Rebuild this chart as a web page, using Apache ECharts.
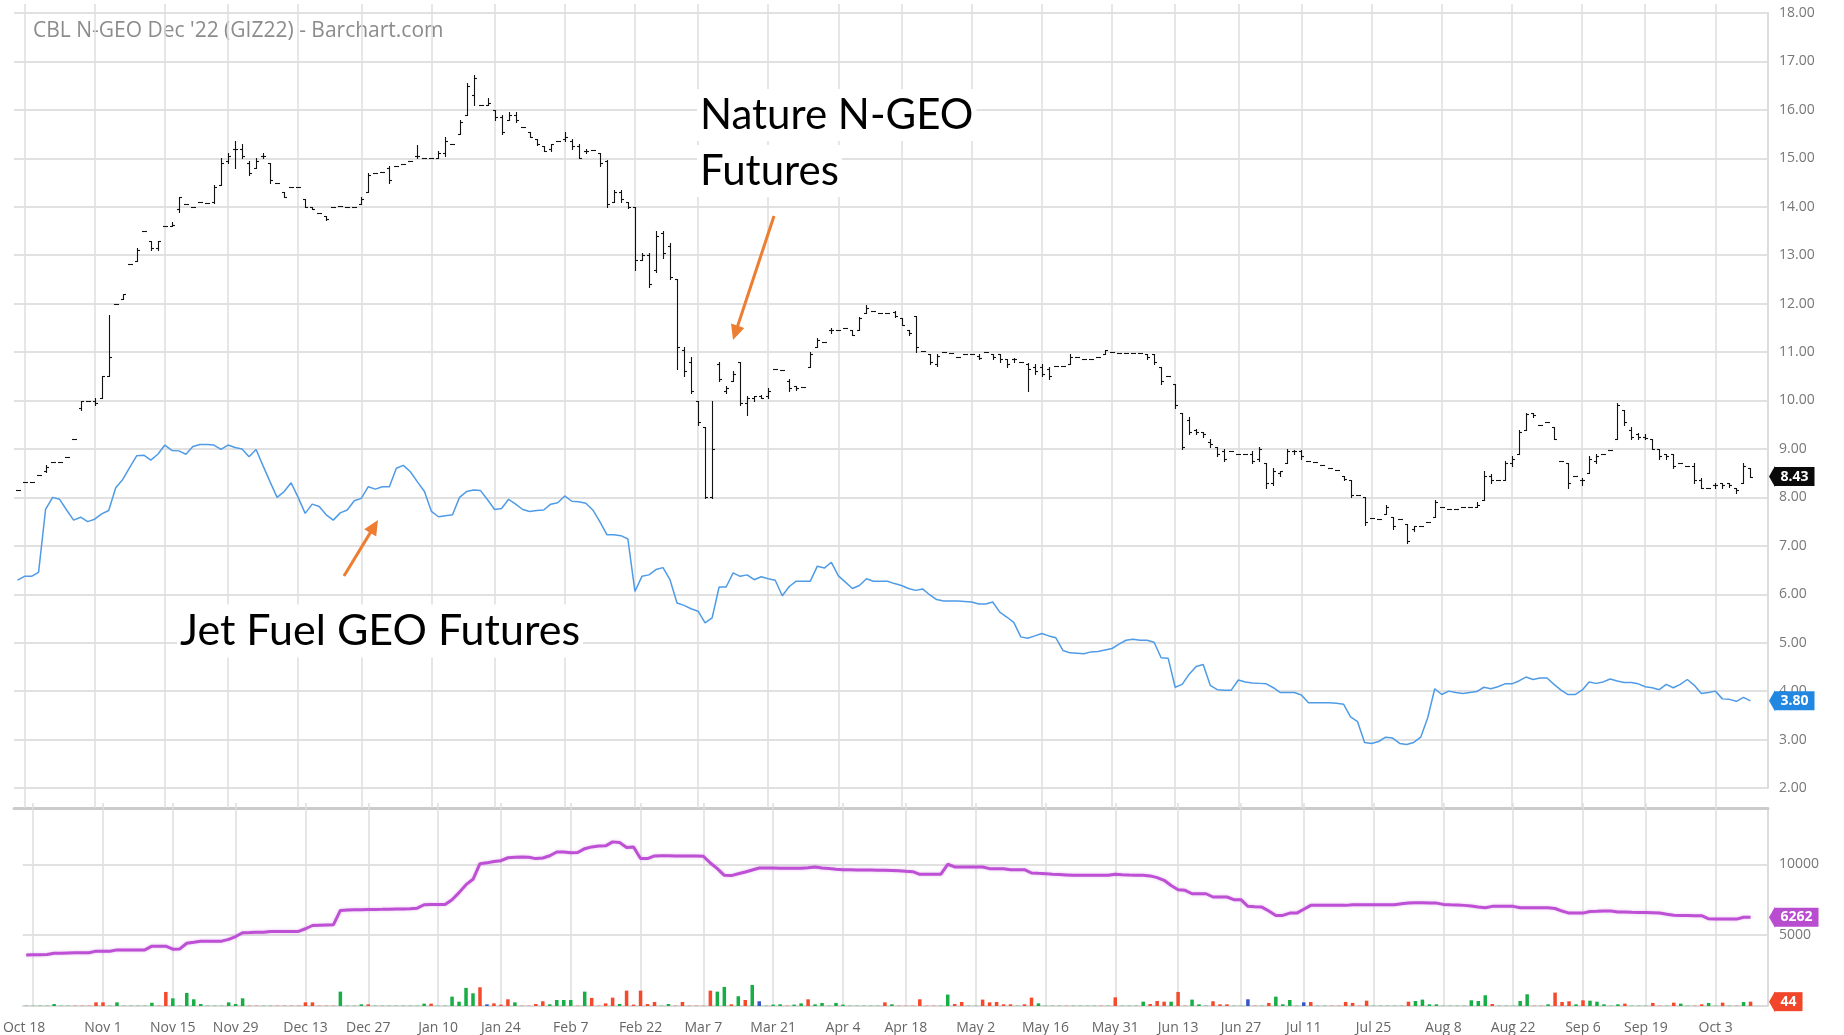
<!DOCTYPE html>
<html>
<head>
<meta charset="utf-8">
<title>CBL N-GEO Dec '22 (GIZ22)</title>
<script src="https://cdn.jsdelivr.net/npm/echarts@6/dist/echarts.min.js"></script>
<style>
  html, body { margin: 0; padding: 0; background: #fff; }
  #chart { width: 1844px; height: 1035px; }
</style>
</head>
<body>
<div id="chart"></div>
<script>
// Daily bars, Oct 15 2021 .. Oct 10 2022 (plus two empty days of right padding)
const FIRST_DAY = "2021-10-15";
const DAY_COUNT = 250;
const HOLIDAYS = ["2021-11-25", "2021-12-24", "2022-01-17", "2022-02-21", "2022-04-15",
  "2022-05-30", "2022-06-20", "2022-07-04", "2022-09-05"];

const tickDates = ["2021-10-18", "2021-11-01", "2021-11-15", "2021-11-29", "2021-12-13", "2021-12-27",
  "2022-01-10", "2022-01-24", "2022-02-07", "2022-02-22", "2022-03-07", "2022-03-21", "2022-04-04",
  "2022-04-18", "2022-05-02", "2022-05-16", "2022-05-31", "2022-06-13", "2022-06-27", "2022-07-11",
  "2022-07-25", "2022-08-08", "2022-08-22", "2022-09-06", "2022-09-19", "2022-10-03"];
const tickNames = ["Oct 18", "Nov 1", "Nov 15", "Nov 29", "Dec 13", "Dec 27", "Jan 10", "Jan 24",
  "Feb 7", "Feb 22", "Mar 7", "Mar 21", "Apr 4", "Apr 18", "May 2", "May 16", "May 31", "Jun 13",
  "Jun 27", "Jul 11", "Jul 25", "Aug 8", "Aug 22", "Sep 6", "Sep 19", "Oct 3"];

// N-GEO price bars: a number = flat day, otherwise [open, high, low, close]
const ngeoBars = [
  8.15, 8.31, 8.31, 8.46, [8.55, 8.67, 8.53, 8.62], 8.72, 8.74, 8.84, 9.2, [9.85, 10.0, 9.8, 10.0],
  9.98, [10.0, 10.05, 9.9, 9.95], [10.05, 10.5, 10.05, 10.5], [10.5, 11.77, 10.5, 10.9], 12.0,
  [12.1, 12.2, 12.1, 12.2], 12.82, [12.87, 13.14, 12.87, 13.1], 13.5, [13.3, 13.3, 13.1, 13.15],
  [13.15, 13.3, 13.1, 13.3], 13.6, [13.6, 13.68, 13.6, 13.62], [13.95, 14.2, 13.9, 14.2], 14.05,
  14.0, 14.1, 14.08, [14.1, 14.45, 14.08, 14.4], [14.45, 15.0, 14.45, 14.9],
  [14.95, 15.1, 14.9, 15.05], [15.2, 15.35, 14.8, 15.2], [15.2, 15.3, 15.0, 15.05], [14.9, 14.95, 14.65, 14.7], [14.8, 15.0, 14.8, 14.95],
  [15.05, 15.1, 15.0, 15.05], [14.9, 14.9, 14.5, 14.55], 14.5, [14.3, 14.3, 14.2, 14.2], 14.4,
  14.4, [14.15, 14.15, 14.0, 14.0], [14.0, 14.0, 13.95, 13.95], 13.87, [13.8, 13.8, 13.72, 13.75],
  14.0, 14.02, 14.0, 14.0, [14.05, 14.2, 14.05, 14.15],
  [14.3, 14.7, 14.3, 14.65], 14.7, 14.72, [14.8, 14.85, 14.5, 14.55], 14.85,
  14.88, 14.95, [15.05, 15.28, 15.0, 15.05], 15.0, 15.0,
  [15.0, 15.15, 15.0, 15.1], [15.1, 15.45, 15.05, 15.35], 15.3, [15.5, 15.8, 15.5, 15.75], [15.9, 16.55, 15.9, 16.5],
  [16.3, 16.73, 16.1, 16.65], 16.1, [16.1, 16.25, 16.1, 16.15], [16.0, 16.0, 15.8, 15.85], [15.85, 15.9, 15.5, 15.55],
  [15.8, 15.95, 15.8, 15.9], [15.9, 15.95, 15.75, 15.8], 15.65, [15.55, 15.55, 15.45, 15.45], [15.4, 15.4, 15.28, 15.3],
  [15.25, 15.25, 15.15, 15.15], [15.2, 15.3, 15.15, 15.3], 15.35, [15.4, 15.55, 15.35, 15.45], [15.35, 15.4, 15.2, 15.25],
  [15.25, 15.3, 15.0, 15.0], [15.15, 15.2, 15.1, 15.15], 15.17, [15.1, 15.1, 14.85, 14.9], [14.95, 14.97, 14.0, 14.05],
  [14.1, 14.35, 14.1, 14.3], [14.3, 14.35, 14.1, 14.15], [14.1, 14.1, 13.98, 14.0], [14.0, 14.0, 12.7, 12.9], [12.9, 13.05, 12.9, 13.0],
  [13.0, 13.05, 12.35, 12.4], [12.7, 13.5, 12.65, 13.4], [13.45, 13.5, 12.95, 13.05], [13.2, 13.25, 12.5, 12.55], [12.5, 12.5, 10.65, 11.1],
  [11.05, 11.1, 10.5, 10.6], [10.8, 10.9, 10.15, 10.2], [10.0, 10.0, 9.5, 9.55], [9.45, 9.45, 7.98, 8.0], [8.0, 10.0, 7.98, 9.0],
  [10.75, 10.8, 10.4, 10.45], [10.2, 10.3, 10.15, 10.25], [10.4, 10.6, 10.4, 10.55], [10.8, 10.8, 9.9, 9.95], [9.95, 10.1, 9.7, 10.05],
  [10.05, 10.1, 10.0, 10.1], [10.1, 10.12, 10.05, 10.05], [10.1, 10.25, 10.05, 10.2], 10.65, 10.62,
  [10.4, 10.45, 10.2, 10.25], [10.3, 10.3, 10.22, 10.25], 10.28, [10.7, 11.0, 10.7, 10.95], [11.1, 11.3, 11.1, 11.25],
  11.2, [11.45, 11.5, 11.4, 11.45], 11.45, 11.5, [11.45, 11.45, 11.35, 11.35],
  [11.45, 11.72, 11.45, 11.7], [11.8, 11.97, 11.8, 11.9], 11.85, 11.8, 11.8,
  [11.82, 11.85, 11.72, 11.75], [11.7, 11.7, 11.55, 11.55], [11.45, 11.45, 11.35, 11.4], [11.75, 11.75, 11.0, 11.1], 11.02,
  [10.95, 10.95, 10.75, 10.8], [10.75, 10.95, 10.72, 10.92], 11.0, 10.98, 10.9,
  10.95, 10.95, [10.92, 10.95, 10.85, 10.88], 11.0, [10.95, 10.97, 10.85, 10.9],
  [10.95, 10.97, 10.8, 10.85], [10.85, 10.85, 10.7, 10.75], [10.85, 10.88, 10.8, 10.85], 10.8, [10.75, 10.78, 10.2, 10.65],
  [10.7, 10.75, 10.55, 10.6], [10.7, 10.75, 10.5, 10.55], [10.65, 10.7, 10.45, 10.5], 10.72, 10.72,
  [10.75, 10.95, 10.75, 10.9], 10.9, 10.85, 10.85, 10.9,
  [10.95, 11.05, 10.95, 11.05], 11.0, 10.98, 10.98, 10.98,
  10.98, [10.97, 10.97, 10.85, 10.9], [10.97, 10.97, 10.75, 10.8], [10.7, 10.7, 10.35, 10.4], 10.5,
  [10.35, 10.35, 9.85, 9.9], [9.75, 9.75, 9.0, 9.05], [9.6, 9.65, 9.3, 9.35], [9.4, 9.42, 9.3, 9.35], [9.35, 9.35, 9.25, 9.3],
  [9.15, 9.2, 9.05, 9.1], [9.05, 9.05, 8.85, 8.9], [8.95, 9.0, 8.75, 8.8], 8.95, 8.9,
  8.9, [8.9, 8.95, 8.7, 8.75], [8.8, 9.05, 8.75, 9.0], [8.7, 8.7, 8.2, 8.3], [8.3, 8.6, 8.25, 8.55],
  [8.5, 8.55, 8.45, 8.55], [8.7, 9.0, 8.7, 8.95], [8.95, 8.98, 8.9, 8.95], [8.95, 8.98, 8.8, 8.85], 8.75,
  8.72, 8.67, 8.6, 8.57, [8.45, 8.45, 8.35, 8.38],
  [8.35, 8.35, 8.0, 8.05], 8.05, [8.0, 8.0, 7.42, 7.5], 7.58, 7.55,
  [7.65, 7.85, 7.65, 7.8], [7.6, 7.6, 7.35, 7.4], 7.55, [7.45, 7.45, 7.05, 7.1], [7.35, 7.4, 7.3, 7.4],
  7.4, 7.5, [7.6, 7.95, 7.6, 7.9], 7.8, 7.75,
  7.75, 7.8, 7.8, [7.8, 7.9, 7.8, 7.85], [7.95, 8.55, 7.95, 8.45],
  [8.45, 8.48, 8.3, 8.35], 8.35, [8.35, 8.75, 8.35, 8.7], [8.7, 8.85, 8.65, 8.8], [8.9, 9.4, 8.9, 9.35],
  [9.4, 9.75, 9.4, 9.72], [9.75, 9.75, 9.65, 9.7], 9.5, 9.55, [9.45, 9.45, 9.2, 9.2],
  8.75, [8.7, 8.7, 8.2, 8.3], 8.45, [8.35, 8.4, 8.25, 8.35], [8.5, 8.85, 8.5, 8.8],
  [8.75, 8.9, 8.7, 8.85], 8.9, 8.97, [9.2, 9.95, 9.2, 9.9], [9.8, 9.8, 9.5, 9.55],
  [9.4, 9.45, 9.2, 9.25], [9.3, 9.32, 9.2, 9.25], [9.25, 9.3, 9.2, 9.22], [9.2, 9.2, 9.0, 9.0], [9.0, 9.0, 8.8, 8.85],
  [8.9, 8.9, 8.8, 8.85], [8.9, 8.9, 8.6, 8.65], 8.7, 8.65, [8.65, 8.7, 8.3, 8.35],
  [8.35, 8.4, 8.2, 8.2], 8.2, [8.25, 8.3, 8.2, 8.25], [8.3, 8.3, 8.2, 8.25], [8.3, 8.3, 8.22, 8.25],
  [8.2, 8.2, 8.1, 8.15], [8.3, 8.7, 8.3, 8.65], [8.6, 8.6, 8.43, 8.43]
];

// Jet Fuel GEO close (blue line), same price axis
const jetFuel = [
  6.29, 6.37, 6.37, 6.45, 7.75, 8.0, 7.96, 7.74, 7.53, 7.59,
  7.5, 7.55, 7.66, 7.73, 8.2, 8.37, 8.62, 8.86, 8.87, 8.77,
  8.89, 9.08, 8.97, 8.96, 8.89, 9.05, 9.09, 9.09, 9.08, 8.99,
  9.08, 9.03, 9.0, 8.84, 8.99, 8.65, 8.32, 8.0, 8.12, 8.3,
  8.0, 7.67, 7.86, 7.81, 7.64, 7.53, 7.68, 7.74, 7.93, 7.98,
  8.22, 8.17, 8.22, 8.22, 8.6, 8.66, 8.53, 8.32, 8.12, 7.71,
  7.6, 7.62, 7.64, 8.0, 8.12, 8.15, 8.14, 7.95, 7.75, 7.77,
  7.96, 7.86, 7.75, 7.71, 7.73, 7.74, 7.86, 7.89, 8.03, 7.92,
  7.91, 7.88, 7.74, 7.5, 7.23, 7.23, 7.21, 7.14, 6.06, 6.37,
  6.4, 6.51, 6.55, 6.3, 5.82, 5.77, 5.7, 5.65, 5.41, 5.51,
  6.15, 6.15, 6.44, 6.37, 6.4, 6.3, 6.36, 6.32, 6.29, 5.97,
  6.16, 6.27, 6.27, 6.27, 6.58, 6.54, 6.66, 6.38, 6.25, 6.12,
  6.18, 6.32, 6.27, 6.27, 6.27, 6.22, 6.18, 6.12, 6.08, 6.11,
  5.99, 5.89, 5.86, 5.86, 5.86, 5.85, 5.84, 5.8, 5.8, 5.84,
  5.63, 5.53, 5.42, 5.12, 5.09, 5.14, 5.19, 5.14, 5.1, 4.84,
  4.79, 4.78, 4.77, 4.81, 4.82, 4.85, 4.88, 4.97, 5.05, 5.07,
  5.05, 5.05, 5.01, 4.69, 4.68, 4.08, 4.14, 4.35, 4.51, 4.55,
  4.12, 4.03, 4.02, 4.02, 4.23, 4.19, 4.17, 4.16, 4.15, 4.07,
  3.97, 3.97, 3.97, 3.92, 3.76, 3.76, 3.76, 3.76, 3.75, 3.73,
  3.47, 3.37, 2.94, 2.92, 2.96, 3.05, 3.03, 2.92, 2.9, 2.94,
  3.05, 3.45, 4.05, 3.93, 4.0, 3.97, 3.95, 3.97, 3.99, 4.08,
  4.05, 4.09, 4.15, 4.15, 4.21, 4.29, 4.24, 4.27, 4.27, 4.14,
  4.02, 3.93, 3.93, 4.02, 4.19, 4.16, 4.19, 4.25, 4.21, 4.18,
  4.18, 4.15, 4.09, 4.07, 4.03, 4.14, 4.07, 4.14, 4.24, 4.12,
  3.95, 3.97, 4.0, 3.84, 3.83, 3.79, 3.87, 3.80
];

// Open interest (purple line)
const openInterest = [
  3600, 3610, 3620, 3630, 3720, 3730, 3740, 3750, 3750, 3760,
  3870, 3870, 3870, 3960, 3960, 3960, 3960, 3960, 4220, 4220,
  4220, 4010, 4030, 4430, 4500, 4575, 4575, 4575, 4575, 4700,
  4900, 5165, 5180, 5200, 5210, 5260, 5260, 5260, 5260, 5260,
  5450, 5680, 5700, 5720, 5730, 6745, 6770, 6790, 6800, 6815,
  6815, 6820, 6830, 6840, 6850, 6860, 6900, 7145, 7160, 7170,
  7170, 7500, 8000, 8560, 8940, 10045, 10100, 10200, 10250, 10460,
  10500, 10515, 10500, 10400, 10440, 10600, 10870, 10870, 10820, 10830,
  11100, 11225, 11290, 11300, 11580, 11530, 11180, 11225, 10400, 10400,
  10590, 10600, 10600, 10590, 10590, 10580, 10580, 10565, 10090, 9690,
  9220, 9200, 9330, 9455, 9600, 9740, 9740, 9730, 9720, 9715,
  9715, 9720, 9760, 9810, 9740, 9700, 9650, 9620, 9610, 9600,
  9590, 9590, 9580, 9575, 9560, 9540, 9500, 9480, 9290, 9290,
  9290, 9290, 10000, 9810, 9810, 9810, 9810, 9810, 9690, 9690,
  9690, 9620, 9620, 9620, 9385, 9360, 9340, 9290, 9270, 9250,
  9230, 9220, 9220, 9220, 9220, 9220, 9290, 9260, 9240, 9230,
  9220, 9180, 9055, 8870, 8500, 8205, 8160, 7920, 7920, 7920,
  7690, 7690, 7690, 7500, 7500, 7030, 7000, 6980, 6700, 6390,
  6390, 6555, 6555, 6830, 7100, 7100, 7100, 7100, 7100, 7100,
  7145, 7145, 7145, 7145, 7145, 7145, 7145, 7215, 7260, 7285,
  7285, 7270, 7260, 7170, 7140, 7120, 7100, 7060, 6980, 6930,
  7030, 7030, 7030, 7030, 6930, 6930, 6930, 6930, 6930, 6880,
  6700, 6555, 6555, 6555, 6670, 6680, 6700, 6700, 6640, 6625,
  6610, 6600, 6590, 6580, 6560, 6480, 6400, 6390, 6380, 6370,
  6370, 6155, 6140, 6130, 6130, 6130, 6262, 6262
];

// Daily volume and its colour code (u = up, d = down, n = unchanged)
const volume = [
  3, 3, 3, 3, 20, 3, 3, 3, 3, 3,
  37, 37, 3, 37, 3, 3, 3, 3, 33, 3,
  143, 78, 3, 133, 68, 20, 3, 3, 3, 37,
  20, 78, 3, 3, 3, 3, 3, 3, 3, 3,
  37, 37, 3, 3, 3, 146, 3, 3, 17, 17,
  3, 3, 3, 3, 3, 3, 3, 24, 24, 3,
  3, 95, 44, 184, 129, 190, 17, 27, 14, 68,
  37, 3, 3, 20, 48, 17, 61, 61, 61, 3,
  146, 82, 3, 27, 85, 20, 156, 14, 156, 20,
  41, 3, 20, 3, 41, 3, 3, 3, 156, 146,
  194, 17, 99, 61, 214, 48, 3, 14, 17, 3,
  14, 27, 68, 17, 31, 3, 31, 14, 3, 3,
  3, 3, 3, 37, 17, 3, 3, 3, 68, 3,
  3, 3, 116, 20, 41, 3, 3, 65, 37, 41,
  17, 17, 3, 17, 85, 27, 3, 3, 3, 3,
  3, 3, 3, 3, 3, 3, 88, 3, 3, 3,
  44, 20, 51, 44, 44, 143, 3, 65, 17, 3,
  48, 17, 17, 3, 3, 68, 3, 3, 31, 95,
  17, 61, 3, 37, 41, 3, 3, 3, 3, 41,
  31, 3, 54, 3, 3, 3, 3, 3, 44, 51,
  65, 17, 17, 3, 3, 3, 3, 58, 51, 109,
  20, 3, 3, 3, 51, 119, 3, 3, 17, 136,
  41, 48, 17, 58, 54, 44, 17, 3, 17, 24,
  3, 3, 3, 31, 3, 3, 34, 24, 3, 3,
  17, 31, 3, 34, 3, 3, 40, 44
];
const volumeDir =
  "uuuuuuuddd" + "dduuuuuuud" + "duuuuuuuuu" + "uudduudddd" + "ddddduuuud" +
  "uuuuuuuudu" + "uuuuudnddd" + "udddduuuud" + "uddddudddd" + "duuddddddu" +
  "ududunuuud" + "uuduuuuuuu" + "uuududdddd" + "duudduuddd" + "ddudduuuud" +
  "uuuududuuu" + "udddudduun" + "ddduundudu" + "uuunduuddd" + "ddduuuuudu" +
  "uuuuuuuuuu" + "duuuuuddud" + "dduduuuuud" + "uuudduduud" + "duududud";

const lastTags = [
  { grid: 0, value: 8.43, text: "8.43", color: "#0a0a0a" },
  { grid: 0, value: 3.80, text: "3.80", color: "#2187e0" },
  { grid: 1, value: 6262, text: "6262", color: "#b84dcf" },
  { grid: 2, value: 44, text: "44", color: "#f1462a" }
];

(function () {
  "use strict";

  const FONT = '"Open Sans", sans-serif';
  const NOTE_FONT = '"Lato", sans-serif';
  const GRID_H = "#e1e1e1";
  const GRID_V = "#dedede";
  const ORANGE = "#ed7d31";
  const VOL_COLORS = { u: "#16ae45", d: "#f5492b", n: "#3557c4" };

  function tradingDays(start, count) {
    const out = [];
    const d = new Date(start + "T00:00:00Z");
    while (out.length < count) {
      const wd = d.getUTCDay();
      const s = d.toISOString().slice(0, 10);
      if (wd !== 0 && wd !== 6 && HOLIDAYS.indexOf(s) < 0) out.push(s);
      d.setUTCDate(d.getUTCDate() + 1);
    }
    return out;
  }

  const days = tradingDays(FIRST_DAY, DAY_COUNT);
  const tickName = {};
  tickDates.forEach((d, i) => { tickName[d] = tickNames[i]; });
  const isTick = (idx, val) => tickName[val] !== undefined;

  const barData = ngeoBars.map((b, i) => (typeof b === "number" ? [i, b, b, b, b] : [i, b[0], b[1], b[2], b[3]]));

  function renderOhlc(params, api) {
    const i = api.value(0);
    const hi = api.coord([i, api.value(2)]);
    const lo = api.coord([i, api.value(3)]);
    const op = api.coord([i, api.value(1)]);
    const cl = api.coord([i, api.value(4)]);
    const x = Math.round(hi[0]) + 0.5;
    const w = 2.5;
    const st = { stroke: "#111", lineWidth: 1.1 };
    const yo = Math.round(op[1]) + 0.5;
    const yc = Math.round(cl[1]) + 0.5;
    return {
      type: "group",
      children: [
        { type: "line", shape: { x1: x, y1: Math.round(hi[1]), x2: x, y2: Math.round(lo[1]) + 1 }, style: st },
        { type: "line", shape: { x1: x - w, y1: yo, x2: x, y2: yo }, style: st },
        { type: "line", shape: { x1: x, y1: yc, x2: x + w, y2: yc }, style: st }
      ]
    };
  }

  function renderTag(tag) {
    return function (params, api) {
      const cs = params.coordSys;
      const y = api.coord([0, api.value(1)])[1];
      const x0 = cs.x + cs.width + 1;
      return {
        type: "group",
        children: [
          { type: "polygon", shape: { points: [[x0, y], [x0 + 6, y - 10.5], [x0 + 6, y + 10.5]] }, style: { fill: tag.color } },
          {
            type: "text", x: x0 + 5.5, y: y,
            style: {
              text: tag.text, fill: "#fff", font: "bold 14px " + FONT,
              align: "left", verticalAlign: "middle",
              backgroundColor: tag.color, padding: [3, 6, 2, 6]
            }
          }
        ]
      };
    };
  }

  function arrow(x1, y1, x2, y2) {
    const dx = x2 - x1, dy = y2 - y1;
    const len = Math.hypot(dx, dy);
    const ux = dx / len, uy = dy / len;
    const hl = 15, hw = 7;
    const bx = x2 - ux * hl, by = y2 - uy * hl;
    return [
      { type: "line", z: 20, shape: { x1: x1, y1: y1, x2: bx + ux * 2, y2: by + uy * 2 }, style: { stroke: ORANGE, lineWidth: 3 } },
      { type: "polygon", z: 20, shape: { points: [[x2, y2], [bx - uy * hw, by + ux * hw], [bx + uy * hw, by - ux * hw]] }, style: { fill: ORANGE } }
    ];
  }

  function note(text, x, y, size) {
    return {
      type: "text", x: x, y: y, z: 20,
      style: {
        text: text, fill: "#000", font: size + "px " + NOTE_FONT, verticalAlign: "middle",
        backgroundColor: "#fff", padding: [4, 3, 6, 3]
      }
    };
  }

  // the first date label sits half off the left edge, as in the source image
  function dateLabel(v) {
    return v === tickDates[0] ? tickName[v] + "\u00a0\u00a0\u00a0\u00a0\u00a0" : tickName[v];
  }

  const chart = echarts.init(document.getElementById("chart"));

  const tickStyle = { color: GRID_V, width: 1.5 };
  const tagSeries = lastTags.map((t) => ({
    type: "custom",
    xAxisIndex: t.grid === 0 ? 0 : 1,
    yAxisIndex: t.grid,
    clip: false,
    silent: true,
    z: 10,
    renderItem: renderTag(t),
    data: [[0, t.value]]
  }));

  chart.setOption({
    animation: false,
    backgroundColor: "#fff",
    grid: [
      { left: 14, right: 76, top: 13, height: 775 },
      { left: 14, right: 76, top: 809, height: 197 }
    ],
    xAxis: [
      {
        type: "category", gridIndex: 0, data: days, offset: 20,
        axisLine: { show: true, lineStyle: { color: "#cbcbcb", width: 3 } },
        axisTick: { show: true, inside: true, alignWithLabel: true, length: 804, interval: isTick, lineStyle: tickStyle },
        axisLabel: { show: false },
        splitLine: { show: false }
      },
      {
        type: "category", gridIndex: 1, data: days, offset: 5,
        axisLine: { show: true, lineStyle: { color: "#d9d9d9", width: 1.5 } },
        axisTick: { show: true, inside: true, alignWithLabel: true, length: 203, interval: isTick, lineStyle: tickStyle },
        axisLabel: {
          show: true, interval: isTick, margin: 10,
          color: "#666", fontFamily: FONT, fontSize: 14,
          formatter: dateLabel
        },
        splitLine: { show: false }
      }
    ],
    yAxis: [
      {
        type: "value", gridIndex: 0, position: "right", min: 2, max: 18, interval: 1,
        axisLine: { show: true, lineStyle: { color: "#dcdcdc", width: 2 } },
        axisTick: { show: false },
        axisLabel: { color: "#777", fontFamily: FONT, fontSize: 14, margin: 11, formatter: (v) => v.toFixed(2) },
        splitLine: { show: true, lineStyle: { color: GRID_H, width: 2 } }
      },
      {
        type: "value", gridIndex: 1, position: "right", min: 0, max: 13900, interval: 5000,
        axisLine: { show: true, lineStyle: { color: "#dcdcdc", width: 2 } },
        axisTick: { show: false },
        axisLabel: {
          color: "#777", fontFamily: FONT, fontSize: 14, margin: 11,
          showMinLabel: false, showMaxLabel: false, formatter: (v) => String(v)
        },
        splitLine: { show: true, lineStyle: { color: GRID_H, width: 2 } }
      },
      { type: "value", gridIndex: 1, min: 0, max: 2000, show: false }
    ],
    graphic: [
      {
        type: "text", left: 33, top: 21,
        style: { text: "CBL N-GEO Dec '22 (GIZ22) - Barchart.com", fill: "#8c8c8c", font: "21px " + FONT }
      },
      note("Nature N-GEO", 697, 115, 42),
      note("Futures", 697, 171, 42),
      note("Jet Fuel GEO Futures", 177, 631, 43)
    ].concat(arrow(774, 216, 733, 340), arrow(344, 576, 378, 520)),
    series: [
      {
        name: "N-GEO", type: "custom", xAxisIndex: 0, yAxisIndex: 0,
        renderItem: renderOhlc, encode: { x: 0, y: [1, 2, 3, 4] },
        data: barData, z: 3
      },
      {
        name: "Jet Fuel GEO", type: "line", xAxisIndex: 0, yAxisIndex: 0,
        data: jetFuel, symbol: "none", z: 2,
        lineStyle: { color: "#4f9be6", width: 1.5 }
      },
      {
        name: "Open Interest", type: "line", xAxisIndex: 1, yAxisIndex: 1,
        data: openInterest, symbol: "none", z: 3,
        lineStyle: { color: "#bd50d4", width: 3, shadowColor: "rgba(189,80,212,0.35)", shadowBlur: 3 }
      },
      {
        name: "Volume", type: "bar", xAxisIndex: 1, yAxisIndex: 2,
        data: volume, barWidth: 3.5, z: 2,
        itemStyle: { color: (p) => VOL_COLORS[volumeDir[p.dataIndex]] }
      }
    ].concat(tagSeries)
  });
})();
</script>
</body>
</html>
